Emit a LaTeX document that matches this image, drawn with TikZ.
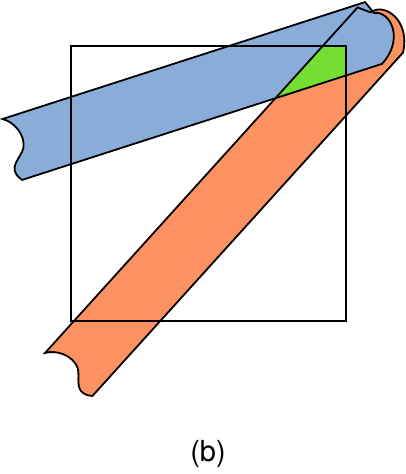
\documentclass[tikz,border=0pt]{standalone}
\usepackage{fontspec}
\setsansfont{TeX Gyre Heros}
\usepackage{xcolor}
\definecolor{BandBlue}{RGB}{138,172,216}
\definecolor{BandOrange}{RGB}{252,145,98}
\definecolor{OverlapGreen}{RGB}{117,222,50}
\usepackage{tikz}
\usetikzlibrary{calc}
% ribbon in its own frame: torn end at u=0, rolled end at u=#1, width 64
\newcommand{\RibbonPath}[1]{(0,0) -- (#1,0) -- (#1+5,13) .. controls (#1+22,16) and (#1+26,48) .. (#1-3,64) -- (0,64) .. controls (-1,62) and (-3,61) .. (-4,56) .. controls (-6,46) and (6,42) .. (11,34) .. controls (17,22) and (10,6) .. (0,0) -- cycle}

\begin{document}
\begin{tikzpicture}[
    x=1pt, y=-1pt,
    font=\sffamily,
    ribbon_edge/.style={draw=black, line width=1.8pt},
    band_blue/.style={shift={(2.5,119)}, rotate=17.87},
    band_orange/.style={shift={(45,353)}, rotate=47.87},
    window_box/.style={draw=black, line width=1.8pt}
]
    \useasboundingbox (0,0) rectangle (406,474);

    % 1. FILLS
    \fill[BandOrange, band_orange] \RibbonPath{466};
    \fill[BandBlue, band_blue] \RibbonPath{381};

    % 2. OVERLAP INSIDE THE WINDOW
    \begin{scope}
        \clip (71,46) rectangle (346,321);
        \clip[band_orange] \RibbonPath{466};
        \fill[OverlapGreen, band_blue] \RibbonPath{381};
    \end{scope}

    % 3. OUTLINES
    \draw[ribbon_edge, band_orange] \RibbonPath{466};
    \draw[ribbon_edge, band_blue] \RibbonPath{381};

    % 4. WINDOW
    \draw[window_box] (71,46) rectangle (346,321);

    \node[anchor=base, font=\sffamily\fontsize{29}{34}\selectfont] (caption) at (208,461.5) {(b)};

\end{tikzpicture}
\end{document}
